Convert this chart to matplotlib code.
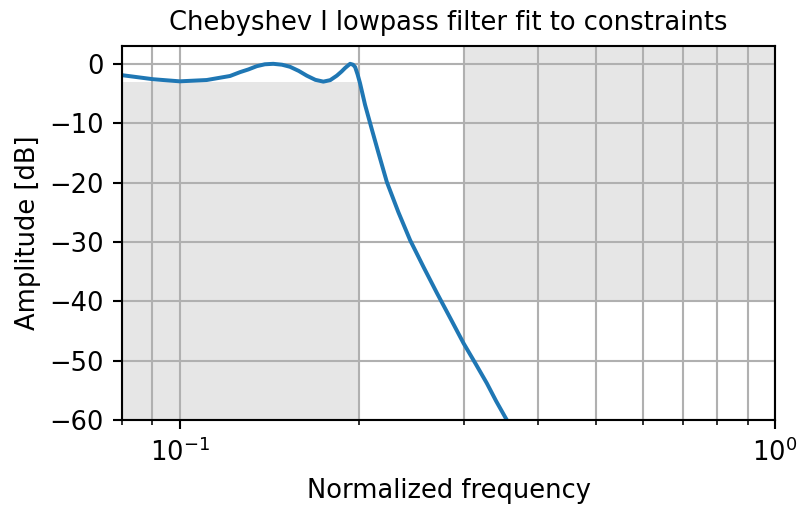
import matplotlib
matplotlib.use("Agg")
import matplotlib.pyplot as plt

# magnitude response of the Chebyshev I lowpass, sampled along the curve
freq = [0.075, 0.0805, 0.0903, 0.100, 0.111, 0.1215, 0.1263, 0.1304,
        0.1347, 0.1390, 0.1436, 0.1485, 0.1532, 0.1585, 0.1635, 0.1690,
        0.1743, 0.1790, 0.1836, 0.1870, 0.1896, 0.1933, 0.1955, 0.1971,
        0.1990, 0.2009, 0.2048, 0.2102, 0.2157, 0.2228, 0.2330, 0.2438,
        0.2570, 0.2704, 0.2850, 0.2997, 0.3140, 0.328, 0.340, 0.353, 0.362]
gain_db = [-1.6, -1.95, -2.6, -2.95, -2.73, -2.05, -1.4, -0.95,
           -0.4, -0.08, 0.0, -0.15, -0.5, -1.2, -2.0, -2.7,
           -3.0, -2.75, -2.0, -1.3, -0.7, 0.0, -0.15, -0.55,
           -1.8, -3.3, -6.9, -11.0, -15.0, -19.9, -25.0, -29.7,
           -34.3, -38.6, -42.9, -47.05, -50.5, -53.8, -56.8, -59.7, -61.6]

# constraint regions: passband ripple and stopband attenuation
pass_x = [0.01, 0.2, 0.2, 0.01]
pass_y = [-3, -3, -99, -99]
stop_x = [0.3, 0.3, 2, 2]
stop_y = [9, -40, -40, 9]

# one font size for every piece of text
font_size = 13 * 72 / 96.0
plt.rcParams.update({
    'font.size': font_size,
    'axes.titlesize': font_size,
    'axes.labelsize': font_size,
    'xtick.labelsize': font_size,
    'ytick.labelsize': font_size,
})

dpi = 190
fig = plt.figure(figsize=(797 / dpi, 505 / dpi), dpi=dpi)
ax = fig.add_axes([0.1531, 0.1683, 0.9724 - 0.1531, 0.9089 - 0.1683])

ax.semilogx(freq, gain_db)
ax.set_title('Chebyshev I lowpass filter fit to constraints')
ax.set_xlabel('Normalized frequency')
ax.set_ylabel('Amplitude [dB]', labelpad=3)
ax.grid(which='both', axis='both')
ax.fill(pass_x, pass_y, '0.9', lw=0)
ax.fill(stop_x, stop_y, '0.9', lw=0)
ax.axis([0.08, 1, -60, 3])

fig.savefig('out.png', dpi=dpi)
